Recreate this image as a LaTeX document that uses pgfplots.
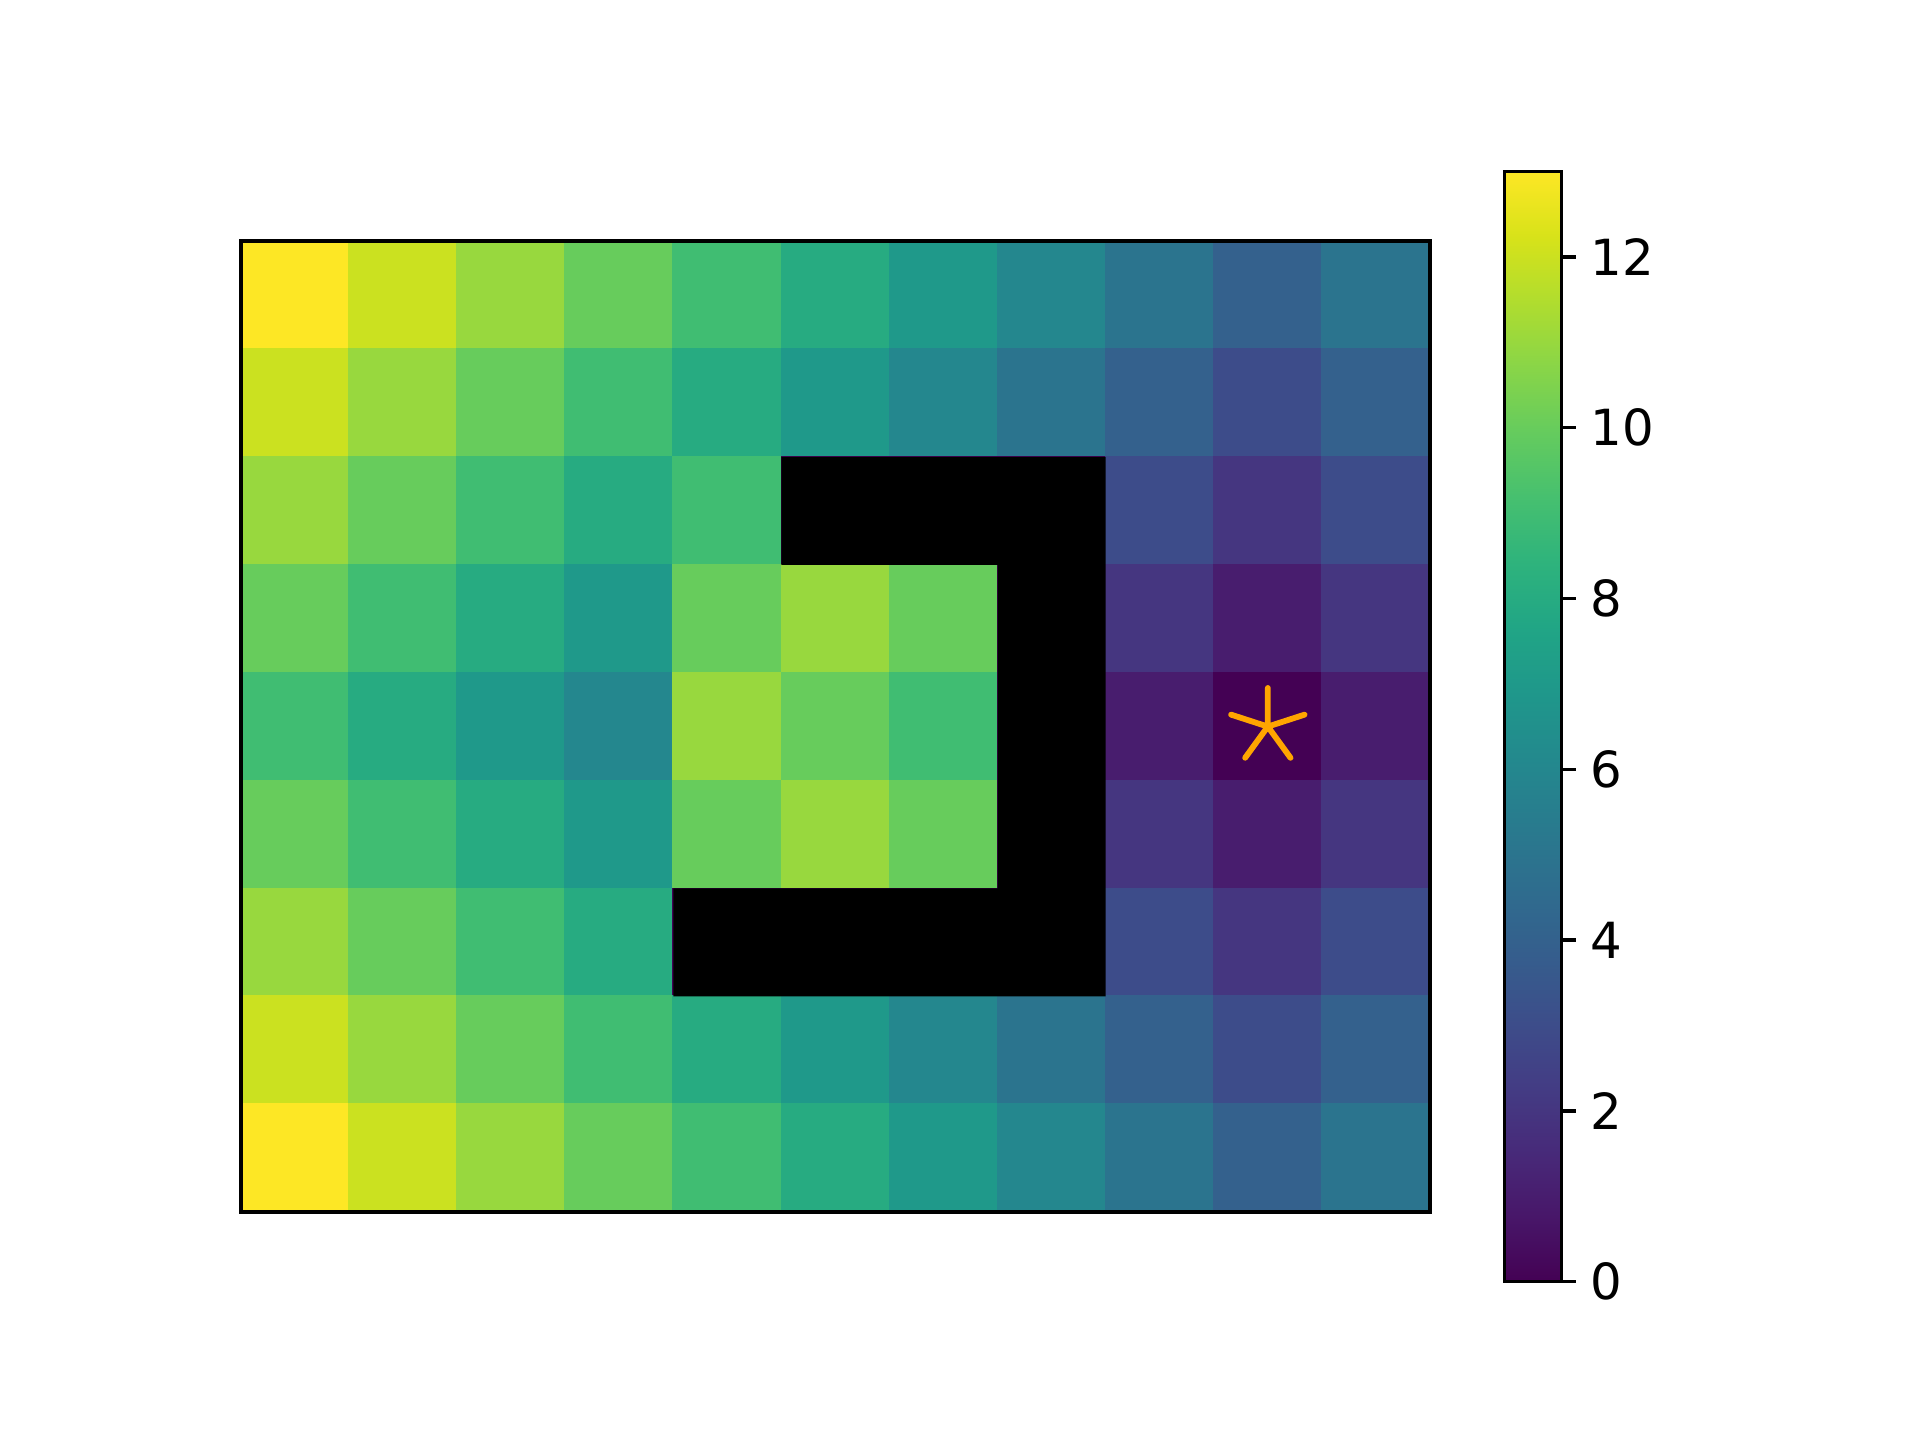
\documentclass[border=0pt]{standalone}
\usepackage{fontspec}
\setmainfont{DejaVu Sans}
\usepackage{pgfplots}
\pgfplotsset{compat=1.18}
\usepackage{pgfplotstable}
\definecolor{goalorange}{HTML}{FFA500}

% distance map: x = column, y = row (row 0 at the top); walls get 0 and are drawn black on top
\pgfplotstableread{
x y c
0 0 13
1 0 12
2 0 11
3 0 10
4 0 9
5 0 8
6 0 7
7 0 6
8 0 5
9 0 4
10 0 5
0 1 12
1 1 11
2 1 10
3 1 9
4 1 8
5 1 7
6 1 6
7 1 5
8 1 4
9 1 3
10 1 4
0 2 11
1 2 10
2 2 9
3 2 8
4 2 9
5 2 0
6 2 0
7 2 0
8 2 3
9 2 2
10 2 3
0 3 10
1 3 9
2 3 8
3 3 7
4 3 10
5 3 11
6 3 10
7 3 0
8 3 2
9 3 1
10 3 2
0 4 9
1 4 8
2 4 7
3 4 6
4 4 11
5 4 10
6 4 9
7 4 0
8 4 1
9 4 0
10 4 1
0 5 10
1 5 9
2 5 8
3 5 7
4 5 10
5 5 11
6 5 10
7 5 0
8 5 2
9 5 1
10 5 2
0 6 11
1 6 10
2 6 9
3 6 8
4 6 0
5 6 0
6 6 0
7 6 0
8 6 3
9 6 2
10 6 3
0 7 12
1 7 11
2 7 10
3 7 9
4 7 8
5 7 7
6 7 6
7 7 5
8 7 4
9 7 3
10 7 4
0 8 13
1 8 12
2 8 11
3 8 10
4 8 9
5 8 8
6 8 7
7 8 6
8 8 5
9 8 4
10 8 5
}\distmap

\begin{document}
\begin{tikzpicture}
\useasboundingbox (-2.040cm,-1.930cm) rectangle (14.216cm,10.262cm);
\begin{axis}[
  scale only axis,
  width=10.067cm,
  height=8.221cm,
  xmin=-0.5, xmax=10.5,
  ymin=-0.5, ymax=8.5,
  y dir=reverse,
  enlargelimits=false,
  xtick=\empty, ytick=\empty,
  axis on top,
  axis line style={line width=0.8pt},
  colormap name=viridis,
  point meta min=0, point meta max=13,
  colorbar,
  colorbar style={
    scale only axis,
    at={(parent axis.east)}, anchor=west, xshift=0.33cm,
    width=0.483cm, height=9.40cm,
    ytick={0,2,4,6,8,10,12},
    ytick pos=right,
    tick align=outside,
    major tick length=3.5pt,
    tick style={line width=0.8pt, black},
    axis line style={line width=0.8pt},
    yticklabel style={font=\fontsize{12}{14}\selectfont},
    /pgf/number format/assume math mode=true,
  },
]
\addplot[matrix plot*, mesh/cols=11, point meta=explicit] table[x=x, y=y, meta=c] {\distmap};
% walls
\addplot[fill=black, draw=none] coordinates {
  (4.5,1.5) (7.5,1.5) (7.5,6.5) (3.5,6.5) (3.5,5.5) (6.5,5.5) (6.5,2.5) (4.5,2.5) (4.5,1.5)};
% goal
\addplot[only marks, mark=star, mark size=9.3pt, color=goalorange,
  mark options={line width=1.4pt, line cap=round}] coordinates {(9,4)};
\end{axis}
\end{tikzpicture}
\end{document}
